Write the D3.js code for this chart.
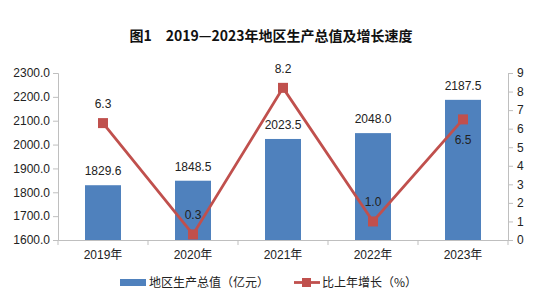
<!DOCTYPE html>
<html><head><meta charset="utf-8">
<script src="https://cdn.jsdelivr.net/npm/d3@7"></script>
<style>body{margin:0;background:#fff}svg{display:block}</style>
</head><body><svg id="c" width="554" height="304"></svg>
<script>
const categories = ["2019年","2020年","2021年","2022年","2023年"];
const gdp = [1829.6, 1848.5, 2023.5, 2048.0, 2187.5];
const growth = [6.3, 0.3, 8.2, 1.0, 6.5];
const growthLabelPos = ["above","above","above","above","below"];
const leftTicks = [1600,1700,1800,1900,2000,2100,2200,2300];
const rightTicks = [0,1,2,3,4,5,6,7,8,9];
const title = "图1　2019—2023年地区生产总值及增长速度";
const legendNames = ["地区生产总值（亿元）","比上年增长（%）"];

const svg = d3.select("#c");
const font = "'Liberation Sans', 'Noto Sans CJK SC', sans-serif";
const L = 58, R = 508, T = 73, B = 240;
const barColor = "#4F81BD", lineColor = "#C0504D", axisColor = "#BFBFBF", textColor = "#222";
const fs = 12;

svg.append("text").attr("x", 271).attr("y", 41).attr("text-anchor","middle")
  .attr("font-family","'Noto Sans CJK SC', sans-serif").attr("font-weight","bold")
  .attr("font-size",14).attr("fill","#111").text(title);

const xb = d3.scaleBand().domain(categories).range([L, R]);
const yL = d3.scaleLinear().domain([1600,2300]).range([B, T]);
const yR = d3.scaleLinear().domain([0,9]).range([B, T]);

// left axis
const la = svg.append("g").attr("transform",`translate(${L},0)`)
  .call(d3.axisLeft(yL).tickValues(leftTicks).tickFormat(d3.format(".1f")).tickSizeOuter(0).tickSize(5));
la.select(".domain").attr("stroke",axisColor);
la.selectAll(".tick line").attr("stroke",axisColor);
la.selectAll("text").attr("font-family",font).attr("font-size",fs).attr("fill",textColor).attr("x",-8);

// right axis
const ra = svg.append("g").attr("transform",`translate(${R},0)`)
  .call(d3.axisRight(yR).tickValues(rightTicks).tickSizeOuter(0).tickSize(5));
ra.select(".domain").attr("stroke",axisColor);
ra.selectAll(".tick line").attr("stroke",axisColor);
ra.selectAll("text").attr("font-family",font).attr("font-size",fs).attr("fill",textColor).attr("x",9);

// bottom axis
const ba = svg.append("g").attr("transform",`translate(0,${B})`)
  .call(d3.axisBottom(xb).tickSize(0).tickSizeOuter(0));
ba.select(".domain").attr("stroke",axisColor);
ba.selectAll("text").attr("font-family",font).attr("font-size",fs).attr("fill",textColor).attr("dy","1.3em");
const bounds = [L].concat(categories.map(c => xb(c) + xb.bandwidth()));
svg.append("g").selectAll("line").data(bounds).join("line")
  .attr("x1", d => d).attr("x2", d => d).attr("y1", B).attr("y2", B + 5).attr("stroke", axisColor);

// bars
svg.append("g").selectAll("rect").data(gdp).join("rect")
  .attr("x",(d,i)=>xb(categories[i]) + xb.bandwidth()/2 - 18)
  .attr("width",36)
  .attr("y",d=>yL(d)).attr("height",d=>B - yL(d)).attr("fill",barColor);
svg.append("g").selectAll("text").data(gdp).join("text")
  .attr("x",(d,i)=>xb(categories[i]) + xb.bandwidth()/2)
  .attr("y",d=>yL(d) - 10).attr("text-anchor","middle")
  .attr("font-family",font).attr("font-size",fs).attr("fill",textColor)
  .text(d=>d3.format(".1f")(d));

// line
const cx = i => xb(categories[i]) + xb.bandwidth()/2;
svg.append("path").datum(growth)
  .attr("d", d3.line().x((d,i)=>cx(i)).y(d=>yR(d)))
  .attr("fill","none").attr("stroke",lineColor).attr("stroke-width",2.8);
svg.append("g").selectAll("rect").data(growth).join("rect")
  .attr("x",(d,i)=>cx(i)-5).attr("y",d=>yR(d)-5).attr("width",10).attr("height",10)
  .attr("fill",lineColor);
svg.append("g").selectAll("text").data(growth).join("text")
  .attr("x",(d,i)=>cx(i))
  .attr("y",(d,i)=> growthLabelPos[i]==="above" ? yR(d) - 15 : yR(d) + 25)
  .attr("text-anchor","middle")
  .attr("font-family",font).attr("font-size",fs).attr("fill",textColor)
  .text(d=>d3.format(".1f")(d));

// legend
const lg = svg.append("g");
lg.append("rect").attr("x",120).attr("y",279).attr("width",26).attr("height",7).attr("fill",barColor);
lg.append("text").attr("x",149).attr("y",287).attr("font-family","'Noto Sans CJK SC', sans-serif")
  .attr("font-size",12).attr("fill",textColor).text(legendNames[0]);
lg.append("line").attr("x1",294).attr("x2",320).attr("y1",282.5).attr("y2",282.5).attr("stroke",lineColor).attr("stroke-width",2.8);
lg.append("rect").attr("x",302).attr("y",278).attr("width",9).attr("height",9).attr("fill",lineColor);
lg.append("text").attr("x",322).attr("y",287).attr("font-family","'Noto Sans CJK SC', sans-serif")
  .attr("font-size",12).attr("fill",textColor).text(legendNames[1]);
</script></body></html>
